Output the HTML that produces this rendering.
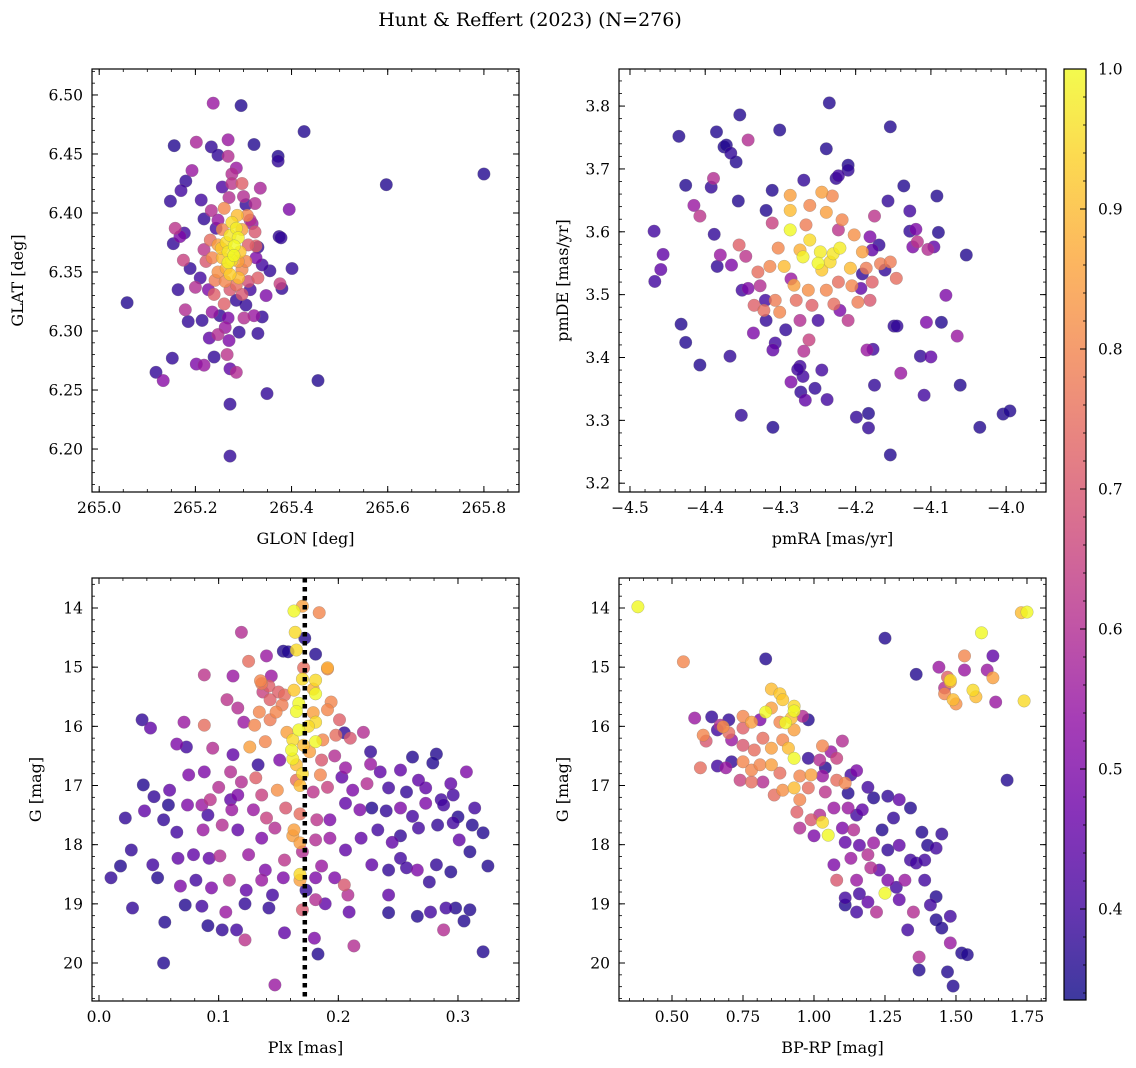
<!DOCTYPE html>
<html><head><meta charset="utf-8"><style>
html,body{margin:0;padding:0;background:#fff;}
svg{display:block;font-family:"DejaVu Serif","Liberation Serif",serif;}
</style></head><body>
<svg id="fig" width="1136" height="1068" viewBox="0 0 1136 1068" xmlns="http://www.w3.org/2000/svg">
<defs><linearGradient id="cbgrad" x1="0" y1="1" x2="0" y2="0"></linearGradient></defs>
<text x="530" y="26" font-size="19" text-anchor="middle">Hunt &amp; Reffert (2023) (N=276)</text>
</svg>
<script>
const probRange = [0.335, 1.0];
const p1Stars = [[265.237,6.493,.55],[265.295,6.491,.36],[265.426,6.469,.36],[265.156,6.457,.36],[265.202,6.460,.58],[265.233,6.456,.38],[265.268,6.462,.55],[265.322,6.458,.36],[265.247,6.449,.38],[265.268,6.448,.6],[265.372,6.448,.36],[265.372,6.444,.38],[265.285,6.438,.55],[265.276,6.433,.6],[265.193,6.436,.55],[265.297,6.425,.72],[265.276,6.425,.62],[265.256,6.422,.42],[265.335,6.421,.58],[265.17,6.419,.4],[265.18,6.427,.38],[265.3,6.414,.6],[265.212,6.411,.4],[265.148,6.410,.38],[265.27,6.413,.6],[265.305,6.407,.38],[265.324,6.408,.6],[265.395,6.403,.5],[265.287,6.398,.9],[265.308,6.398,.8],[265.233,6.402,.6],[265.247,6.394,.55],[265.218,6.395,.38],[265.158,6.387,.62],[265.177,6.383,.4],[265.168,6.380,.5],[265.374,6.380,.38],[265.324,6.384,.7],[265.318,6.391,.55],[265.154,6.374,.38],[265.175,6.360,.65],[265.189,6.353,.38],[265.164,6.335,.38],[265.2,6.337,.6],[265.355,6.351,.38],[265.330,6.345,.72],[265.326,6.372,.72],[265.33,6.371,.38],[265.401,6.353,.38],[265.376,6.340,.65],[265.38,6.336,.38],[265.347,6.330,.5],[265.322,6.313,.55],[265.339,6.312,.38],[265.227,6.335,.5],[265.179,6.318,.6],[265.214,6.309,.38],[265.235,6.316,.55],[265.185,6.308,.38],[265.305,6.322,.38],[265.262,6.303,.55],[265.291,6.299,.38],[265.330,6.298,.38],[265.247,6.297,.6],[265.229,6.294,.45],[265.202,6.272,.5],[265.218,6.271,.55],[265.239,6.278,.38],[265.152,6.277,.38],[265.27,6.292,.5],[265.118,6.265,.38],[265.133,6.258,.52],[265.266,6.280,.62],[265.272,6.268,.45],[265.285,6.265,.6],[265.349,6.247,.38],[265.455,6.258,.36],[265.272,6.238,.38],[265.272,6.194,.38],[265.597,6.424,.36],[265.8,6.433,.36],[265.058,6.324,.36],[265.378,6.379,.38],
[265.276,6.392,.95],[265.285,6.387,.98],[265.272,6.381,.97],[265.289,6.379,.99],[265.264,6.375,.95],[265.281,6.372,1.0],[265.268,6.367,.97],[265.293,6.367,.92],[265.256,6.362,.9],[265.276,6.360,.96],[265.289,6.359,.85],[265.264,6.353,.88],[265.272,6.348,.93],[265.247,6.350,.82],[265.297,6.352,.8],[265.241,6.343,.78],[265.262,6.342,.8],[265.285,6.339,.75],[265.305,6.359,.8],[265.235,6.362,.8],[265.247,6.373,.85],[265.297,6.386,.85],[265.256,6.386,.8],[265.31,6.373,.72],[265.231,6.377,.75],[265.222,6.359,.7],[265.239,6.331,.72],[265.272,6.335,.7],[265.297,6.331,.7],[265.31,6.342,.68],[265.26,6.323,.72],[265.285,6.326,.38],[265.251,6.313,.38],[265.301,6.311,.6],[265.268,6.311,.5],[265.314,6.335,.4],[265.21,6.345,.4],[265.218,6.369,.62],[265.326,6.362,.5],[265.339,6.356,.4],[265.243,6.387,.4],[265.314,6.394,.6],[265.26,6.404,.8],[265.28,6.364,1.0],[265.268,6.358,.99],[265.29,6.345,.9],[265.254,6.37,.92]];
const p2Stars = [[-4.468,3.601,.4],[-4.467,3.521,.4],[-4.456,3.564,.45],[-4.459,3.54,.45],[-4.435,3.752,.36],[-4.426,3.674,.36],[-4.432,3.453,.36],[-4.426,3.424,.36],[-4.407,3.388,.36],[-4.415,3.642,.55],[-4.407,3.625,.62],[-4.392,3.671,.38],[-4.389,3.685,.6],[-4.388,3.596,.38],[-4.385,3.759,.36],[-4.375,3.735,.36],[-4.372,3.738,.36],[-4.366,3.725,.38],[-4.359,3.711,.36],[-4.354,3.786,.36],[-4.343,3.746,.6],[-4.355,3.579,.72],[-4.384,3.545,.38],[-4.38,3.563,.55],[-4.365,3.547,.5],[-4.367,3.402,.38],[-4.352,3.308,.38],[-4.356,3.649,.36],[-4.336,3.439,.5],
[-4.327,3.514,.6],[-4.343,3.510,.5],[-4.351,3.507,.4],[-4.319,3.634,.36],[-4.311,3.666,.36],[-4.311,3.614,.65],[-4.301,3.762,.36],[-4.310,3.289,.36],[-4.310,3.412,.45],[-4.307,3.423,.4],[-4.286,3.525,.55],[-4.274,3.386,.4],[-4.270,3.370,.4],[-4.273,3.345,.38],[-4.267,3.332,.45],[-4.286,3.361,.5],[-4.277,3.381,.4],[-4.269,3.410,.6],[-4.262,3.428,.65],[-4.254,3.351,.38],[-4.245,3.380,.4],[-4.238,3.333,.4],[-4.235,3.805,.36],[-4.239,3.732,.36],[-4.226,3.685,.38],[-4.223,3.689,.4],[-4.210,3.706,.36],[-4.210,3.698,.38],[-4.221,3.475,.5],[-4.210,3.459,.62],[-4.193,3.510,.45],[-4.199,3.305,.38],[-4.183,3.311,.36],[-4.183,3.288,.38],[-4.181,3.592,.5],[-4.191,3.533,.38],[-4.175,3.356,.38],[-4.154,3.767,.36],[-4.157,3.649,.38],[-4.185,3.412,.55],[-4.177,3.413,.4],[-4.161,3.539,.38],[-4.175,3.625,.62],[-4.169,3.579,.38],[-4.178,3.571,.45],[-4.154,3.245,.36],[-4.149,3.450,.38],[-4.145,3.450,.38],[-4.140,3.375,.55],[-4.136,3.673,.36],[-4.128,3.633,.4],[-4.128,3.601,.38],[-4.124,3.576,.5],[-4.120,3.604,.5],[-4.114,3.402,.38],[-4.109,3.340,.4],[-4.106,3.456,.5],[-4.092,3.657,.36],[-4.090,3.599,.36],[-4.096,3.576,.45],[-4.104,3.572,.6],[-4.118,3.584,.62],[-4.100,3.401,.45],[-4.086,3.456,.36],[-4.080,3.499,.5],[-4.065,3.434,.55],[-4.061,3.356,.36],[-4.053,3.563,.36],[-4.035,3.289,.36],[-4.004,3.310,.36],[-3.995,3.315,.36],
[-4.287,3.603,1.0],[-4.261,3.587,.95],[-4.247,3.568,.98],[-4.234,3.552,.95],[-4.221,3.574,.98],[-4.207,3.542,.9],[-4.245,3.539,.92],[-4.274,3.571,.88],[-4.295,3.545,.9],[-4.282,3.515,.85],[-4.263,3.507,.82],[-4.307,3.491,.78],[-4.322,3.475,.75],[-4.301,3.472,.8],[-4.279,3.491,.75],[-4.258,3.483,.72],[-4.239,3.507,.8],[-4.223,3.520,.75],[-4.205,3.514,.8],[-4.186,3.542,.78],[-4.167,3.549,.78],[-4.154,3.552,.78],[-4.146,3.526,.75],[-4.178,3.520,.72],[-4.287,3.634,.9],[-4.261,3.642,.8],[-4.239,3.631,.85],[-4.218,3.619,.8],[-4.202,3.595,.82],[-4.266,3.611,.78],[-4.303,3.574,.8],[-4.314,3.545,.8],[-4.330,3.536,.75],[-4.335,3.483,.72],[-4.346,3.561,.62],[-4.191,3.568,.85],[-4.197,3.488,.78],[-4.229,3.485,.75],[-4.274,3.459,.6],[-4.250,3.459,.4],[-4.293,3.444,.38],[-4.319,3.459,.38],[-4.223,3.603,.62],[-4.181,3.491,.7],[-4.287,3.658,.85],[-4.245,3.663,.85],[-4.231,3.657,.8],[-4.269,3.682,.38],[-4.320,3.491,.4],[-4.25,3.55,1.0],[-4.23,3.565,.97],[-4.27,3.56,.99]];
const p3Stars = [[.163,14.05,1.0],[.170,13.97,.85],[.184,14.08,.8],[.164,14.41,.95],[.172,14.51,.36],[.119,14.41,.6],[.154,14.73,.36],[.140,14.81,.55],[.158,14.74,.36],[.165,14.71,.95],[.181,14.78,.36],[.191,15.01,.88],[.125,14.9,.75],[.144,15.15,.55],[.171,15.01,.75],[.181,15.22,.95],[.191,15.03,.8],[.112,15.15,.55],[.088,15.13,.62],[.135,15.23,.8],[.136,15.28,.78],[.142,15.32,.72],[.137,15.42,.65],[.150,15.42,.72],[.155,15.47,.75],[.163,15.39,.92],[.179,15.37,.88],[.181,15.45,1.0],[.194,15.59,.8],[.107,15.55,.62],[.116,15.69,.6],[.134,15.76,.8],[.143,15.55,.72],[.148,15.76,.8],[.153,15.64,.78],[.167,15.61,1.0],[.179,15.77,.85],[.191,15.72,.8],[.181,15.93,.95],[.121,15.93,.55],[.071,15.93,.55],[.036,15.89,.38],[.043,16.03,.45],[.088,15.98,.75],[.130,15.98,.8],[.143,15.89,.78],[.157,16.1,.85],[.162,16.23,.95],[.171,16.32,.9],[.181,16.26,1.0],[.167,16.06,1.0],[.187,16.23,.8],[.201,15.89,.72],[.198,16.15,.75],[.205,16.11,.38],[.210,16.2,.7],[.221,16.1,.6],[.161,16.4,1.0],[.176,16.43,.85],[.065,16.3,.5],[.095,16.37,.6],[.073,16.35,.4],[.126,16.35,.85],[.139,16.26,.8],[.197,16.5,.6],[.186,16.57,.7],[.151,16.57,.5],[.112,16.48,.45],[.133,16.65,.38],[.206,16.7,.55],[.227,16.64,.55],[.227,16.43,.38],[.165,16.65,.9],
[.037,16.99,.36],[.075,16.82,.5],[.088,16.77,.5],[.110,16.77,.6],[.119,16.94,.6],[.131,16.87,.72],[.116,17.16,.5],[.100,17.03,.6],[.110,17.24,.45],[.136,17.16,.65],[.149,17.08,.82],[.165,16.91,.75],[.179,17.11,.62],[.185,16.82,.8],[.191,17.03,.65],[.203,16.86,.45],[.212,17.08,.5],[.224,16.97,.6],[.235,16.77,.45],[.252,16.74,.45],[.262,16.52,.36],[.282,16.47,.36],[.257,17.11,.38],[.242,17.04,.4],[.273,17.04,.45],[.279,16.62,.36],[.267,16.91,.45],[.294,16.97,.45],[.307,16.77,.5],[.286,17.24,.4],[.296,17.16,.4],[.093,17.24,.62],[.074,17.33,.5],[.086,17.33,.55],[.059,17.08,.45],[.046,17.19,.38],[.058,17.33,.36],[.022,17.55,.38],[.038,17.43,.45],[.054,17.58,.38],[.091,17.5,.4],[.111,17.41,.55],[.129,17.41,.55],[.140,17.55,.65],[.156,17.38,.7],[.168,17.48,.75],[.182,17.58,.62],[.193,17.58,.5],[.206,17.3,.45],[.218,17.41,.5],[.228,17.38,.36],[.240,17.43,.38],[.252,17.38,.5],[.262,17.52,.4],[.273,17.3,.5],[.288,17.33,.4],[.300,17.53,.36],[.314,17.38,.4],[.321,17.8,.36],[.312,17.67,.36],
[.065,17.79,.4],[.087,17.75,.55],[.103,17.67,.6],[.116,17.75,.45],[.136,17.89,.5],[.147,17.72,.6],[.162,17.85,.85],[.168,17.97,.85],[.181,17.92,.6],[.193,17.89,.55],[.206,18.09,.45],[.219,17.89,.45],[.233,17.75,.4],[.245,17.96,.45],[.252,17.85,.38],[.267,17.72,.4],[.283,17.67,.38],[.296,17.63,.4],[.301,17.92,.45],[.310,18.12,.36],[.325,18.36,.36],[.294,18.46,.36],[.027,18.09,.38],[.018,18.36,.36],[.010,18.56,.38],[.045,18.34,.4],[.049,18.56,.36],[.066,18.23,.45],[.079,18.17,.45],[.092,18.23,.45],[.101,18.19,.6],[.125,18.17,.55],[.155,18.26,.62],[.170,18.12,.6],[.168,18.6,.85],[.186,18.36,.55],[.197,18.56,.5],[.208,18.85,.6],[.228,18.34,.45],[.242,18.43,.38],[.252,18.23,.4],[.266,18.43,.5],[.276,18.63,.38],[.282,18.34,.38],[.109,18.6,.6],[.139,18.43,.5],[.136,18.6,.55],[.154,18.56,.5],[.181,18.56,.5],[.205,18.68,.7],[.068,18.7,.5],[.081,18.6,.4],[.094,18.73,.5],[.123,18.77,.45],[.145,18.85,.4],[.173,18.77,.38],[.242,18.85,.45],[.257,18.39,.4],[.028,19.07,.38],[.072,19.02,.36],[.086,19.04,.4],[.106,19.14,.55],[.122,19.0,.38],[.142,19.07,.38],[.170,19.1,.7],[.181,18.93,.6],[.189,19.0,.45],[.209,19.14,.45],[.242,19.15,.36],[.266,19.21,.36],[.277,19.14,.4],[.290,19.07,.4],[.298,19.07,.36],[.310,19.1,.36],[.305,19.29,.36],[.288,19.44,.6],
[.091,19.37,.36],[.103,19.44,.38],[.115,19.44,.4],[.180,19.58,.5],[.213,19.71,.6],[.055,19.31,.36],[.122,19.61,.62],[.155,19.49,.45],[.183,19.85,.36],[.054,20.0,.36],[.147,20.37,.55],[.321,19.81,.36],
[.170,16.8,.95],[.168,17.0,.9],[.162,16.55,.98],[.175,16.0,.95],[.165,15.75,1.0],[.17,15.2,.95],[.168,18.5,.95],[.163,17.75,.85]];
const p4Stars = [[.38,13.98,1.0],[.54,14.91,.8],[.58,15.86,.55],[.83,14.86,.36],[.85,15.37,.9],[.88,15.45,.92],[.89,15.55,.92],[.93,15.66,.95],[.93,15.74,1.0],[.92,15.86,.9],
[.64,15.84,.38],[.66,16.06,.4],[.67,15.98,.6],[.68,16.01,.82],[.70,16.11,.75],[.61,16.15,.8],[.62,16.25,.7],[.70,15.89,.38],[.75,15.83,.8],[.71,16.23,.55],[.75,16.03,.72],[.78,15.93,.85],[.81,15.89,.5],[.83,15.76,1.0],[.85,15.69,.85],[.88,15.93,.8],[.90,15.94,1.0],[.93,16.06,.85],[.96,15.83,.6],[.98,15.89,.36],[.89,16.23,.8],[.82,16.2,.75],[.75,16.32,.7],[.79,16.4,.75],[.85,16.37,.85],[.91,16.37,.9],[.93,16.54,1.0],[.98,16.54,.38],[1.03,16.33,.8],[1.06,16.43,.55],[1.02,16.57,.6],[1.04,16.7,.36],[1.10,16.25,.6],[1.08,16.54,.65],[.60,16.7,.75],[.66,16.67,.4],[.71,16.6,.38],[.69,16.7,.55],[.75,16.6,.8],[.78,16.74,.8],[.81,16.65,.8],[.85,16.65,.85],[.88,16.79,.75],[.95,16.84,.8],[.99,16.82,.85],[1.03,16.84,.55],[1.08,16.91,.75],[1.11,16.96,.8],[1.12,17.13,.36],[1.13,16.82,.4],[1.15,16.75,.5],[1.19,17.03,.4],[1.21,17.21,.36],[1.30,17.24,.45],[1.26,17.18,.38],[1.34,17.38,.36],[.74,16.91,.65],[.78,16.94,.75],[.82,16.94,.6],[.86,17.16,.75],[.89,17.08,.82],[.93,17.04,.9],[.98,17.04,.75],[.95,17.24,.8],[1.04,17.11,.62],[1.07,17.38,.55],[1.02,17.5,.6],[1.03,17.62,.95],[.94,17.45,.72],[.99,17.58,.7],[1.12,17.38,.55],[1.15,17.5,.4],[1.17,17.41,.45],[1.24,17.75,.36],[1.28,17.55,.38],[1.14,17.75,.6],[1.10,17.72,.5],[1.05,17.84,1.0],[1.0,17.85,.5],[.95,17.72,.6],[1.11,17.96,.45],[1.16,18.01,.45],[1.21,17.97,.55],[1.26,18.09,.38],[1.30,18.01,.45],[1.34,18.26,.4],[1.38,17.79,.36],[1.40,18.01,.36],[1.19,18.17,.6],[1.13,18.23,.55],[1.07,18.34,.5],[1.08,18.6,.7],[1.15,18.6,.55],[1.20,18.39,.6],[1.23,18.43,.45],[1.26,18.6,.5],[1.29,18.72,.4],[1.32,18.6,.55],[1.36,18.31,.4],[1.39,18.6,.4],[1.43,18.88,.36],[1.25,18.82,1.0],[1.16,18.83,.4],[1.11,18.9,.4],[1.19,18.97,.45],[1.22,19.14,.6],[1.15,19.14,.4],[1.30,18.93,.45],[1.35,19.14,.6],[1.41,19.02,.4],[1.43,19.27,.36],[1.45,19.41,.36],[1.48,19.21,.4],[1.33,19.44,.4],[1.11,19.02,.36],[1.39,18.26,.4],[1.43,18.06,.4],
[1.25,14.51,.36],[1.36,15.12,.36],[1.44,15.0,.55],[1.46,15.35,.6],[1.46,15.45,.8],[1.47,15.17,.72],[1.48,15.25,.85],[1.48,15.22,.95],[1.49,15.55,.9],[1.50,15.62,.82],[1.53,15.05,.55],[1.53,14.81,.8],[1.56,15.39,.95],[1.57,15.5,.9],[1.59,14.42,1.0],[1.61,15.05,.55],[1.63,14.81,.45],[1.63,15.18,.85],[1.64,15.59,.55],[1.73,14.08,.9],[1.75,14.07,1.0],[1.74,15.57,.95],[1.68,16.91,.36],[1.45,17.82,.38],[1.48,19.66,.55],[1.47,20.15,.36],[1.52,19.83,.36],[1.49,20.39,.36],[1.37,20.12,.36],[1.37,19.9,.6],[1.54,19.86,.36]];
const p1XTicks = ["265.0","265.2","265.4","265.6","265.8"];
const p1YTicks = ["6.20","6.25","6.30","6.35","6.40","6.45","6.50"];
const p2XTicks = ["-4.5","-4.4","-4.3","-4.2","-4.1","-4.0"];
const p2YTicks = ["3.2","3.3","3.4","3.5","3.6","3.7","3.8"];
const p3XTicks = ["0.0","0.1","0.2","0.3"];
const gTicks = ["14","15","16","17","18","19","20"];
const p4XTicks = ["0.50","0.75","1.00","1.25","1.50","1.75"];
const cbTicks = ["0.4","0.5","0.6","0.7","0.8","0.9","1.0"];
const plxMedian = 0.172;

const NS='http://www.w3.org/2000/svg';
const svg=document.getElementById('fig');
function mk(tag,attrs,parent){const e=document.createElementNS(NS,tag);for(const k in attrs)e.setAttribute(k,attrs[k]);(parent||svg).appendChild(e);return e;}
const plasmaStops=[[13,8,135],[65,4,157],[106,0,168],[143,13,164],[177,42,144],[204,71,120],[225,100,98],[242,132,75],[252,166,54],[252,206,37],[240,249,33]];
function plasma(t){t=Math.max(0,Math.min(1,t));const f=t*10,i=Math.min(9,Math.floor(f)),u=f-i;const a=plasmaStops[i],b=plasmaStops[i+1];return 'rgb('+[0,1,2].map(k=>Math.round(a[k]+(b[k]-a[k])*u)).join(',')+')';}
function norm(p){return (p-probRange[0])/(probRange[1]-probRange[0]);}
function fmt(s){return s.replace('-','\u2212');}

function panel(o){
  const g=mk('g',{});
  
  
  const sx=v=>o.bx[0]+(v-o.xd[0])/(o.xd[1]-o.xd[0])*(o.bx[1]-o.bx[0]);
  const sy=o.inv?v=>o.by[0]+(v-o.yd[0])/(o.yd[1]-o.yd[0])*(o.by[1]-o.by[0]):v=>o.by[1]-(v-o.yd[0])/(o.yd[1]-o.yd[0])*(o.by[1]-o.by[0]);
  const pts=o.data.slice().sort((a,b)=>a[2]-b[2]);
  pts.forEach(d=>{
    const c=mk('circle',{cx:sx(d[0]).toFixed(1),cy:sy(d[1]).toFixed(1),r:6.3,fill:plasma(norm(d[2])),'fill-opacity':0.8,stroke:'#777','stroke-opacity':0.5,'stroke-width':0.5},g);
    
    
  });
  if(o.vline!==undefined){
    const l=mk('line',{x1:sx(o.vline),x2:sx(o.vline),y1:o.by[0],y2:o.by[1],stroke:'#000','stroke-width':4.5,'stroke-dasharray':'4.5,4.5'},g);
    
    
  }
  const fr=mk('rect',{x:o.bx[0],y:o.by[0],width:o.bx[1]-o.bx[0],height:o.by[1]-o.by[0],fill:'none',stroke:'#000','stroke-width':1.2},g);
  
  
  const eps=1e-9;
  for(let v=Math.ceil(o.xd[0]/o.xm-eps)*o.xm; v<=o.xd[1]+eps; v+=o.xm){const x=sx(v);mk('line',{x1:x,x2:x,y1:o.by[1],y2:o.by[1]-3,stroke:'#000','stroke-width':0.8},g);mk('line',{x1:x,x2:x,y1:o.by[0],y2:o.by[0]+3,stroke:'#000','stroke-width':0.8},g);}
  for(let v=Math.ceil(Math.min(o.yd[0],o.yd[1])/o.ym-eps)*o.ym; v<=Math.max(o.yd[0],o.yd[1])+eps; v+=o.ym){const y=sy(v);mk('line',{x1:o.bx[0],x2:o.bx[0]+3,y1:y,y2:y,stroke:'#000','stroke-width':0.8},g);mk('line',{x1:o.bx[1],x2:o.bx[1]-3,y1:y,y2:y,stroke:'#000','stroke-width':0.8},g);}
  o.xt.forEach(s=>{const x=sx(parseFloat(s));
    mk('line',{x1:x,x2:x,y1:o.by[1],y2:o.by[1]-6,stroke:'#000','stroke-width':1},g);mk('line',{x1:x,x2:x,y1:o.by[0],y2:o.by[0]+6,stroke:'#000','stroke-width':1},g);
    const t=mk('text',{x:x,y:o.by[1]+21,'font-size':15.5,'text-anchor':'middle'},g);t.textContent=fmt(s);
    
    });
  o.yt.forEach(s=>{const y=sy(parseFloat(s));
    mk('line',{x1:o.bx[0],x2:o.bx[0]+6,y1:y,y2:y,stroke:'#000','stroke-width':1},g);mk('line',{x1:o.bx[1],x2:o.bx[1]-6,y1:y,y2:y,stroke:'#000','stroke-width':1},g);
    const t=mk('text',{x:o.bx[0]-9,y:y+5.5,'font-size':15.5,'text-anchor':'end'},g);t.textContent=fmt(s);
    
    });
  const xl=mk('text',{x:(o.bx[0]+o.bx[1])/2,y:o.by[1]+52,'font-size':16,'text-anchor':'middle'},g);xl.textContent=o.xlab;
  
  
  const cy=(o.by[0]+o.by[1])/2;
  const yl=mk('text',{x:o.ylx,y:cy,'font-size':16,'text-anchor':'middle',transform:'rotate(-90 '+o.ylx+' '+cy+')'},g);yl.textContent=o.ylab;
  
  
}
panel({name:'glon-glat-panel',bx:[92,519],by:[69,492],xd:[264.985,265.873],yd:[6.1636,6.522],data:p1Stars,xt:p1XTicks,yt:p1YTicks,xm:0.05,ym:0.01,xlab:'GLON [deg]',ylab:'GLAT [deg]',ylx:23});
panel({name:'proper-motion-panel',bx:[619,1046],by:[69,492],xd:[-4.5146,-3.947],yd:[3.186,3.859],data:p2Stars,xt:p2XTicks,yt:p2YTicks,xm:0.02,ym:0.02,xlab:'pmRA [mas/yr]',ylab:'pmDE [mas/yr]',ylx:568});
panel({name:'parallax-magnitude-panel',bx:[92,519],by:[578,1001],xd:[-0.00585,0.351],yd:[13.493,20.642],inv:true,data:p3Stars,xt:p3XTicks,yt:gTicks,xm:0.02,ym:0.2,xlab:'Plx [mas]',ylab:'G [mag]',ylx:41,vline:plxMedian});
panel({name:'color-magnitude-panel',bx:[619,1046],by:[578,1001],xd:[0.3134,1.817],yd:[13.493,20.642],inv:true,data:p4Stars,xt:p4XTicks,yt:gTicks,xm:0.05,ym:0.2,xlab:'BP-RP [mag]',ylab:'G [mag]',ylx:568});

const grad=document.getElementById('cbgrad');
for(let i=0;i<=20;i++){mk('stop',{offset:(i/20),'stop-color':plasma(i/20),'stop-opacity':0.8},grad);}
const cb={x0:1064,x1:1086,y0:69,y1:1000};
const cbg=mk('g',{});


mk('rect',{x:cb.x0,y:cb.y0,width:cb.x1-cb.x0,height:cb.y1-cb.y0,fill:'url(#cbgrad)',stroke:'#000','stroke-width':1.2},cbg);
const cy=v=>cb.y1-(v-probRange[0])/(probRange[1]-probRange[0])*(cb.y1-cb.y0);
for(let v=0.34;v<=1.0001;v+=0.02){const y=cy(v);mk('line',{x1:cb.x1,x2:cb.x1-3,y1:y,y2:y,stroke:'#000','stroke-width':0.8},cbg);}
cbTicks.forEach(s=>{const y=cy(parseFloat(s));mk('line',{x1:cb.x1,x2:cb.x1-6,y1:y,y2:y,stroke:'#000','stroke-width':1},cbg);
  const t=mk('text',{x:cb.x1+12,y:y+5.5,'font-size':15.5},cbg);t.textContent=s;
  
  });
</script>
</body></html>
